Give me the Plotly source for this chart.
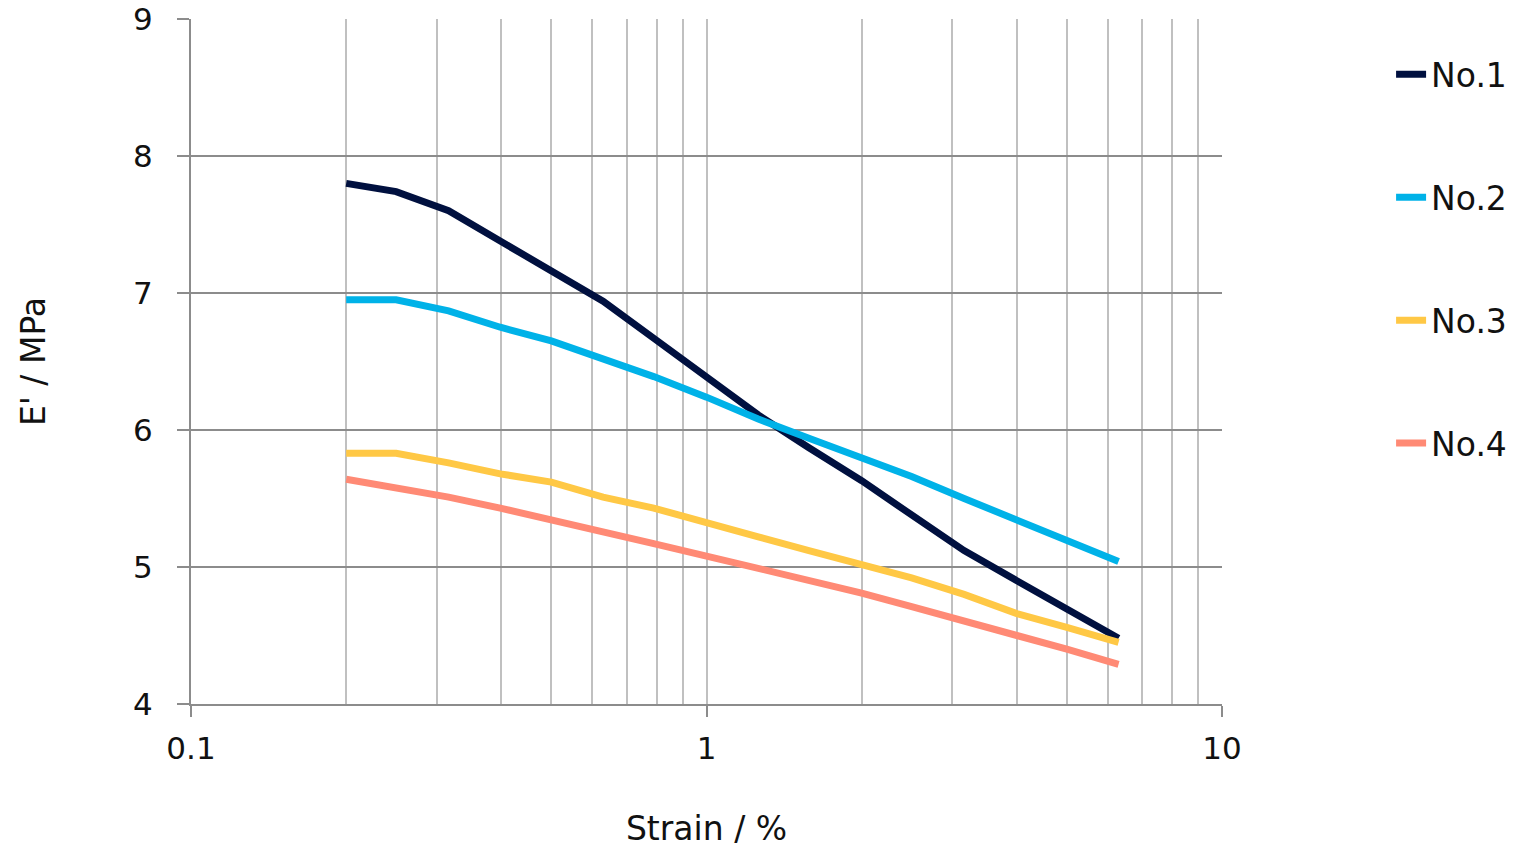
import plotly.graph_objects as go

strain = [0.2, 0.25, 0.316, 0.398, 0.5, 0.63, 0.79, 1.0, 1.26, 1.58, 2.0, 2.5, 3.16, 4.0, 5.0, 6.3]

no1 = [7.80, 7.74, 7.60, 7.38, 7.16, 6.94, 6.67, 6.39, 6.11, 5.87, 5.63, 5.38, 5.12, 4.90, 4.70, 4.48]
no2 = [6.95, 6.95, 6.87, 6.75, 6.65, 6.52, 6.39, 6.24, 6.08, 5.94, 5.80, 5.66, 5.50, 5.34, 5.20, 5.04]
no3 = [5.83, 5.83, 5.76, 5.68, 5.62, 5.51, 5.43, 5.33, 5.22, 5.12, 5.02, 4.92, 4.80, 4.66, 4.56, 4.45]
no4 = [5.64, 5.58, 5.51, 5.43, 5.34, 5.25, 5.17, 5.08, 4.99, 4.90, 4.81, 4.71, 4.61, 4.50, 4.40, 4.29]

names = ["No.1", "No.2", "No.3", "No.4"]
colors = ["#00103F", "#00B2E8", "#FFC845", "#FF8A75"]

x_ticks = [0.1, 1, 10]
x_ticktext = ["0.1", "1", "10"]
x_minor = [0.2, 0.3, 0.4, 0.5, 0.6, 0.7, 0.8, 0.9, 2, 3, 4, 5, 6, 7, 8, 9]
y_ticks = [4, 5, 6, 7, 8, 9]

fig = go.Figure()
for name, vals, col in zip(names, [no1, no2, no3, no4], colors):
    fig.add_trace(go.Scatter(x=strain, y=vals, mode="lines", name=name,
                             legendgroup=name,
                             line=dict(color=col, width=7)))

font_family = "DejaVu Sans, Verdana, sans-serif"
fig.update_layout(
    width=1524, height=853,
    margin=dict(l=191, r=302, t=19, b=149, autoexpand=False),
    paper_bgcolor="white", plot_bgcolor="white",
    font=dict(family=font_family, size=31, color="#111111"),
    legend=dict(x=1.164, xanchor="left", y=0.960, yanchor="top",
                tracegroupgap=77, font=dict(size=33),
                bgcolor="rgba(0,0,0,0)"),
    xaxis=dict(type="log", range=[-1, 1], automargin=False,
               tickmode="array", tickvals=x_ticks, ticktext=x_ticktext,
               ticks="outside", ticklen=11, tickcolor="#8c8c8c", tickwidth=2,
               ticklabelstandoff=5, ticklabeloverflow="allow",
               showgrid=True, gridcolor="#c0c0c0", gridwidth=2,
               minor=dict(tickmode="array", tickvals=x_minor, showgrid=True,
                          gridcolor="#c0c0c0", gridwidth=2, ticks=""),
               showline=True, linecolor="#8c8c8c", linewidth=2,
               title=dict(text="Strain / %", standoff=52, font=dict(size=33)),
               zeroline=False, mirror=False),
    yaxis=dict(range=[4, 9], tickmode="array", tickvals=y_ticks, automargin=False,
               ticks="outside", ticklen=12, tickcolor="#8c8c8c", tickwidth=2,
               ticklabelstandoff=18, ticklabeloverflow="allow",
               showgrid=True, gridcolor="#8c8c8c", gridwidth=2,
               showline=True, linecolor="#8c8c8c", linewidth=2,
               title=dict(text="E' / MPa", standoff=78, font=dict(size=33)),
               zeroline=False),
)

fig.write_html("out.html", config={"displayModeBar": False},
               post_script="document.body.style.margin='0';")
